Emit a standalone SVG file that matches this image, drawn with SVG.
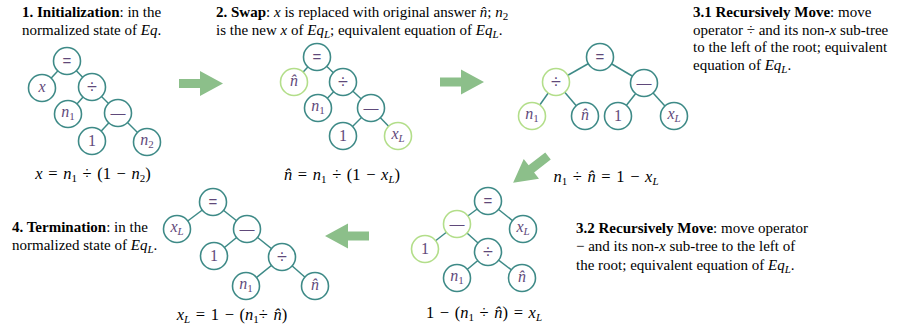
<svg xmlns="http://www.w3.org/2000/svg" width="897" height="330" viewBox="0 0 897 330">
<style>
.n{fill:#fff;stroke:#3e8a87;stroke-width:1.6}
.g{fill:#fff;stroke:#b3de8a;stroke-width:1.6}
.e{stroke:#3e8a87;stroke-width:1.5;fill:none}
.lb{font-family:"Liberation Serif","DejaVu Serif",serif;font-size:16px;fill:#5f497a;text-anchor:middle}
.op{font-family:"Liberation Sans","DejaVu Sans",sans-serif;font-size:15px;fill:#5f497a;text-anchor:middle}
.dv{font-size:18px}
.it{font-style:italic}
.s{font-size:11px}
.t{font-family:"Liberation Serif","Times New Roman",serif;font-size:15px;fill:#000}
.b{font-weight:bold}
.eq{font-family:"Liberation Serif","Times New Roman",serif;font-size:16.5px;word-spacing:1.5px;fill:#000;text-anchor:middle}
.arr{fill:#8cbf8a}
</style>
<defs>
<path id="arrow" d="M0,-4.5 H21 V-12.5 L44,0 L21,12.5 V4.5 H0 Z"/>
</defs>

<!-- Texts -->
<g id="titles">
<text class="t" x="22" y="17"><tspan class="b">1. Initialization</tspan>: in the</text>
<text class="t" x="22" y="35">normalized state of <tspan class="it">Eq</tspan>.</text>

<text class="t" x="216" y="17"><tspan class="b">2. Swap</tspan>: <tspan class="it">x</tspan> is replaced with original answer <tspan class="it">n̂</tspan>; <tspan class="it">n</tspan><tspan class="s" dy="3">2</tspan></text>
<text class="t" x="216" y="35">is the new <tspan class="it">x</tspan> of <tspan class="it">Eq</tspan><tspan class="s it" dy="3">L</tspan><tspan dy="-3">; equivalent equation of </tspan><tspan class="it">Eq</tspan><tspan class="s it" dy="3">L</tspan><tspan dy="-3">.</tspan></text>

<text class="t" x="693" y="17"><tspan class="b">3.1 Recursively Move</tspan>: move</text>
<text class="t" x="693" y="35">operator ÷ and its non-<tspan class="it">x</tspan> sub-tree</text>
<text class="t" x="693" y="52">to the left of the root; equivalent</text>
<text class="t" x="693" y="70">equation of <tspan class="it">Eq</tspan><tspan class="s it" dy="3">L</tspan><tspan dy="-3">.</tspan></text>

<text class="t" x="576" y="233"><tspan class="b">3.2 Recursively Move</tspan>: move operator</text>
<text class="t" x="576" y="251">− and its non-<tspan class="it">x</tspan> sub-tree to the left of</text>
<text class="t" x="576" y="270">the root; equivalent equation of <tspan class="it">Eq</tspan><tspan class="s it" dy="3">L</tspan><tspan dy="-3">.</tspan></text>

<text class="t" x="12" y="232"><tspan class="b">4. Termination</tspan>: in the</text>
<text class="t" x="12" y="250">normalized state of <tspan class="it">Eq</tspan><tspan class="s it" dy="3">L</tspan><tspan dy="-3">.</tspan></text>
</g>

<g id="equations">
<text class="eq" x="93" y="179"><tspan class="it">x</tspan> = <tspan class="it">n</tspan><tspan class="s" dy="3">1</tspan><tspan dy="-3"> ÷ (1 − </tspan><tspan class="it">n</tspan><tspan class="s" dy="3">2</tspan><tspan dy="-3">)</tspan></text>
<text class="eq" x="342" y="180"><tspan class="it">n̂</tspan> = <tspan class="it">n</tspan><tspan class="s" dy="3">1</tspan><tspan dy="-3"> ÷ (1 − </tspan><tspan class="it">x</tspan><tspan class="s it" dy="3">L</tspan><tspan dy="-3">)</tspan></text>
<text class="eq" x="606" y="182"><tspan class="it">n</tspan><tspan class="s" dy="3">1</tspan><tspan dy="-3"> ÷ </tspan><tspan class="it">n̂</tspan> = 1 − <tspan class="it">x</tspan><tspan class="s it" dy="3">L</tspan></text>
<text class="eq" x="484" y="318">1 − (<tspan class="it">n</tspan><tspan class="s" dy="3">1</tspan><tspan dy="-3"> ÷ </tspan><tspan class="it">n̂</tspan>) = <tspan class="it">x</tspan><tspan class="s it" dy="3">L</tspan></text>
<text class="eq" x="232" y="320"><tspan class="it">x</tspan><tspan class="s it" dy="3">L</tspan><tspan dy="-3"> = 1 − (</tspan><tspan class="it">n</tspan><tspan class="s" dy="3">1</tspan><tspan dy="-3">÷ </tspan><tspan class="it">n̂</tspan>)</text>
</g>

<!-- Arrows -->
<g id="arrows" class="arr">
<use href="#arrow" transform="translate(179,83.5)"/>
<use href="#arrow" transform="translate(440,82)"/>
<use href="#arrow" transform="translate(548,156) rotate(142.4)"/>
<use href="#arrow" transform="translate(369,236) rotate(180)"/>
</g>

<!-- Connectors -->
<g id="connectors" class="e">
<line x1="67" y1="61" x2="42" y2="88"/>
<line x1="67" y1="61" x2="92" y2="87"/>
<line x1="92" y1="87" x2="68" y2="114"/>
<line x1="92" y1="87" x2="118" y2="113"/>
<line x1="118" y1="113" x2="92" y2="141"/>
<line x1="118" y1="113" x2="147" y2="142"/>
<line x1="317" y1="57" x2="294" y2="82"/>
<line x1="317" y1="57" x2="343" y2="82"/>
<line x1="343" y1="82" x2="318" y2="108"/>
<line x1="343" y1="82" x2="371" y2="108"/>
<line x1="371" y1="108" x2="343" y2="136"/>
<line x1="371" y1="108" x2="398" y2="136"/>
<line x1="600" y1="57" x2="556" y2="82"/>
<line x1="600" y1="57" x2="644" y2="83"/>
<line x1="556" y1="82" x2="532" y2="116"/>
<line x1="556" y1="82" x2="585" y2="116"/>
<line x1="644" y1="83" x2="618" y2="116"/>
<line x1="644" y1="83" x2="674" y2="116"/>
<line x1="488" y1="201" x2="457" y2="224"/>
<line x1="488" y1="201" x2="523" y2="229"/>
<line x1="457" y1="224" x2="425" y2="249"/>
<line x1="457" y1="224" x2="488" y2="252"/>
<line x1="488" y1="252" x2="457" y2="278"/>
<line x1="488" y1="252" x2="522" y2="278"/>
<line x1="213" y1="202" x2="177" y2="229"/>
<line x1="213" y1="202" x2="247" y2="229"/>
<line x1="247" y1="229" x2="214" y2="256"/>
<line x1="247" y1="229" x2="282" y2="257"/>
<line x1="282" y1="257" x2="246" y2="286"/>
<line x1="282" y1="257" x2="315" y2="286"/>
</g>

<!-- Panel 1 nodes -->
<g id="p1-eq"><circle class="n" cx="67" cy="61" r="13.5"/><text class="op" x="67" y="66">=</text></g>
<g id="p1-x"><circle class="n" cx="42" cy="88" r="13.5"/><text class="lb it" x="42" y="92">x</text></g>
<g id="p1-div"><circle class="n" cx="92" cy="87" r="13.5"/><text class="op dv" x="92" y="93">÷</text></g>
<g id="p1-n1"><circle class="n" cx="68" cy="114" r="13.5"/><text class="lb" x="68" y="117"><tspan class="it">n</tspan><tspan class="s" dy="3">1</tspan></text></g>
<g id="p1-minus"><circle class="n" cx="118" cy="113" r="13.5"/><text class="op" x="118" y="118">—</text></g>
<g id="p1-one"><circle class="n" cx="92" cy="141" r="13.5"/><text class="lb" x="92" y="146">1</text></g>
<g id="p1-n2"><circle class="n" cx="147" cy="142" r="13.5"/><text class="lb" x="147" y="145"><tspan class="it">n</tspan><tspan class="s" dy="3">2</tspan></text></g>

<!-- Panel 2 nodes -->
<g id="p2-eq"><circle class="n" cx="317" cy="57" r="13.5"/><text class="op" x="317" y="62">=</text></g>
<g id="p2-nhat"><circle class="g" cx="294" cy="82" r="13.5"/><text class="lb it" x="294" y="86">n̂</text></g>
<g id="p2-div"><circle class="n" cx="343" cy="82" r="13.5"/><text class="op dv" x="343" y="88">÷</text></g>
<g id="p2-n1"><circle class="n" cx="318" cy="108" r="13.5"/><text class="lb" x="318" y="111"><tspan class="it">n</tspan><tspan class="s" dy="3">1</tspan></text></g>
<g id="p2-minus"><circle class="n" cx="371" cy="108" r="13.5"/><text class="op" x="371" y="113">—</text></g>
<g id="p2-one"><circle class="n" cx="343" cy="136" r="13.5"/><text class="lb" x="343" y="141">1</text></g>
<g id="p2-xL"><circle class="g" cx="398" cy="136" r="13.5"/><text class="lb" x="398" y="139"><tspan class="it">x</tspan><tspan class="s it" dy="3">L</tspan></text></g>

<!-- Panel 3.1 nodes -->
<g id="p31-eq"><circle class="n" cx="600" cy="57" r="13.5"/><text class="op" x="600" y="62">=</text></g>
<g id="p31-div"><circle class="g" cx="556" cy="82" r="13.5"/><text class="op dv" x="556" y="88">÷</text></g>
<g id="p31-minus"><circle class="n" cx="644" cy="83" r="13.5"/><text class="op" x="644" y="88">—</text></g>
<g id="p31-n1"><circle class="g" cx="532" cy="116" r="13.5"/><text class="lb" x="532" y="119"><tspan class="it">n</tspan><tspan class="s" dy="3">1</tspan></text></g>
<g id="p31-nhat"><circle class="n" cx="585" cy="116" r="13.5"/><text class="lb it" x="585" y="120">n̂</text></g>
<g id="p31-one"><circle class="n" cx="618" cy="116" r="13.5"/><text class="lb" x="618" y="121">1</text></g>
<g id="p31-xL"><circle class="n" cx="674" cy="116" r="13.5"/><text class="lb" x="674" y="119"><tspan class="it">x</tspan><tspan class="s it" dy="3">L</tspan></text></g>

<!-- Panel 3.2 nodes -->
<g id="p32-eq"><circle class="n" cx="488" cy="201" r="13.5"/><text class="op" x="488" y="206">=</text></g>
<g id="p32-minus"><circle class="g" cx="457" cy="224" r="13.5"/><text class="op" x="457" y="229">—</text></g>
<g id="p32-xL"><circle class="n" cx="523" cy="229" r="13.5"/><text class="lb" x="523" y="232"><tspan class="it">x</tspan><tspan class="s it" dy="3">L</tspan></text></g>
<g id="p32-one"><circle class="g" cx="425" cy="249" r="13.5"/><text class="lb" x="425" y="254">1</text></g>
<g id="p32-div"><circle class="n" cx="488" cy="252" r="13.5"/><text class="op dv" x="488" y="258">÷</text></g>
<g id="p32-n1"><circle class="n" cx="457" cy="278" r="13.5"/><text class="lb" x="457" y="281"><tspan class="it">n</tspan><tspan class="s" dy="3">1</tspan></text></g>
<g id="p32-nhat"><circle class="n" cx="522" cy="278" r="13.5"/><text class="lb it" x="522" y="282">n̂</text></g>

<!-- Panel 4 nodes -->
<g id="p4-eq"><circle class="n" cx="213" cy="202" r="13.5"/><text class="op" x="213" y="207">=</text></g>
<g id="p4-xL"><circle class="n" cx="177" cy="229" r="13.5"/><text class="lb" x="177" y="232"><tspan class="it">x</tspan><tspan class="s it" dy="3">L</tspan></text></g>
<g id="p4-minus"><circle class="n" cx="247" cy="229" r="13.5"/><text class="op" x="247" y="234">—</text></g>
<g id="p4-one"><circle class="n" cx="214" cy="256" r="13.5"/><text class="lb" x="214" y="261">1</text></g>
<g id="p4-div"><circle class="n" cx="282" cy="257" r="13.5"/><text class="op dv" x="282" y="263">÷</text></g>
<g id="p4-n1"><circle class="n" cx="246" cy="286" r="13.5"/><text class="lb" x="246" y="289"><tspan class="it">n</tspan><tspan class="s" dy="3">1</tspan></text></g>
<g id="p4-nhat"><circle class="n" cx="315" cy="286" r="13.5"/><text class="lb it" x="315" y="290">n̂</text></g>
</svg>
